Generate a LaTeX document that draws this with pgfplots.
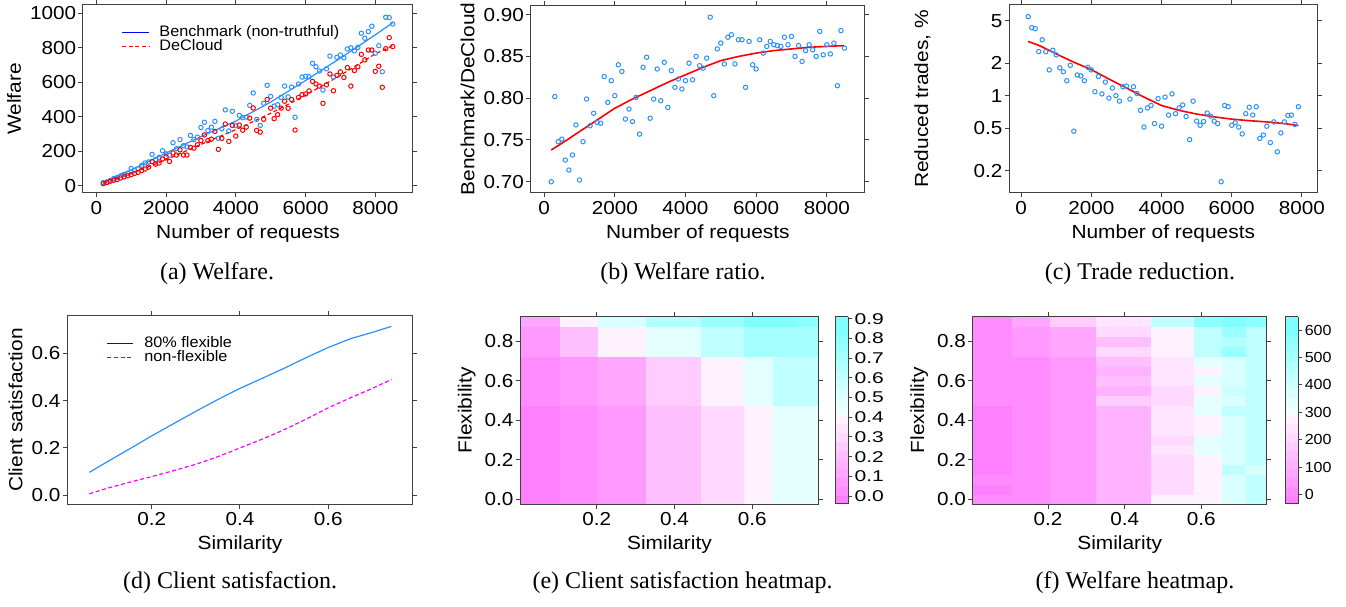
\documentclass[border=0pt]{standalone}
\usepackage{fontspec}
\setmainfont{Liberation Sans}[FakeStretch=1.1]
\newfontfamily\legfont{Liberation Sans}[FakeStretch=1.07]
\newfontfamily\cbfont{Liberation Sans}[FakeStretch=1.35]
\newfontfamily\capfont{Liberation Serif}
\usepackage{pgfplots}
\usepackage{pgfplotstable}
\pgfplotsset{compat=1.18}

\definecolor{dblue}{RGB}{40,145,255}
\definecolor{dred}{RGB}{255,0,0}
\definecolor{dmag}{RGB}{255,0,255}
\definecolor{lblue}{RGB}{0,0,255}
\definecolor{lred}{RGB}{255,0,0}

\tikzset{keytext/.style={anchor=west, inner sep=0pt, text height=5.6pt,
  text depth=1.4pt, font=\legfont\fontsize{7.6}{8}\selectfont}}

% requests, benchmark welfare, DeCloud welfare, ratio, reduced trades (%)
\pgfplotstableread{
x bench decl ratio trade
200 18 12 0.700 5.45
300 22 18 0.802 4.30
400 30 26 0.748 4.21
500 42 32 0.751 2.58
600 48 36 0.726 3.32
700 58 45 0.714 2.57
800 66 52 0.732 1.74
900 72 58 0.768 2.65
1000 100 64 0.702 2.40
1100 88 72 0.748 1.82
1200 98 78 0.799 1.67
1300 118 88 0.767 1.38
1400 132 97 0.782 1.92
1500 138 108 0.771 0.467
1600 182 140 0.770 1.56
1700 152 125 0.826 1.53
1800 165 132 0.795 1.38
1900 203 155 0.821 1.84
2000 185 168 0.803 1.74
2100 178 141 0.840 1.09
2200 250 190 0.832 1.51
2300 215 178 0.775 1.04
2400 268 208 0.787 1.34
2500 232 178 0.772 0.95
2600 225 178 0.801 1.18
2700 292 222 0.757 1.00
2800 268 218 0.837 0.89
2900 282 238 0.849 1.21
3000 338 262 0.776 1.23
3100 368 295 0.799 0.93
3200 320 262 0.835 1.21
3300 340 270 0.797 1.05
3400 373 315 0.843 0.73
3500 275 211 0.789 0.51
3600 330 275 0.833 0.77
3700 440 358 0.813 0.81
3800 318 257 0.823 0.55
3900 432 350 0.811 0.94
4000 348 288 0.821 0.52
4100 408 352 0.842 0.97
4200 395 322 0.822 0.66
4300 398 340 0.850 1.04
4400 466 392 0.839 0.68
4500 538 451 0.836 0.77
4600 385 321 0.848 0.82
4700 350 311 0.897 0.64
4800 478 385 0.803 0.39
4900 582 500 0.859 0.89
5000 518 450 0.866 0.58
5100 462 389 0.841 0.53
5200 470 412 0.873 0.575
5300 512 450 0.876 0.69
5400 578 490 0.841 0.645
5500 515 449 0.870 0.58
5600 572 500 0.870 0.55
5700 397 323 0.813 0.158
5800 590 512 0.868 0.81
5900 630 528 0.840 0.79
6000 635 532 0.835 0.53
6100 632 550 0.870 0.56
6200 710 605 0.854 0.51
6300 690 590 0.862 0.44
6400 665 578 0.868 0.68
6500 555 478 0.864 0.78
6600 678 585 0.863 0.66
6700 752 648 0.862 0.79
6800 630 551 0.873 0.40
6900 745 640 0.864 0.43
7000 758 660 0.874 0.52
7100 742 628 0.850 0.366
7200 793 685 0.863 0.57
7300 800 578 0.844 0.30
7400 782 668 0.857 0.45
7500 802 690 0.864 0.57
7600 884 762 0.858 0.655
7700 855 730 0.850 0.66
7800 894 787 0.880 0.54
7900 925 787 0.852 0.79
8000 768 663 0.864 nan
8100 812 693 0.853 nan
8200 661 571 0.866 nan
8300 977 795 0.815 nan
8400 975 859 0.881 nan
8500 938 807 0.860 nan
}\reqdata

\pgfplotsset{
  colormap={cmr}{rgb=(1,0.5,1) rgb=(1,0.55,1) rgb=(1,0.6,1) rgb=(1,0.65,1)
    rgb=(1,0.7,1) rgb=(1,0.75,1) rgb=(1,0.8,1) rgb=(1,0.85,1) rgb=(1,0.9,1)
    rgb=(1,0.95,1) rgb=(0.95,1,1) rgb=(0.9,1,1) rgb=(0.85,1,1) rgb=(0.8,1,1)
    rgb=(0.75,1,1) rgb=(0.7,1,1) rgb=(0.65,1,1) rgb=(0.6,1,1) rgb=(0.55,1,1)
    rgb=(0.5,1,1) rgb=(0.5,1,1)},
  lat/.style={
    scale only axis, anchor=south west,
    axis line style={black!75, line width=0.5pt},
    tick style={black!75, line width=0.5pt},
    tick align=outside, tick pos=both, major tick length=2.25pt,
    tick label style={font=\fontsize{9.4}{11}\selectfont},
    label style={font=\fontsize{9.5}{11}\selectfont},
    xticklabel style={inner sep=1.5pt},
    yticklabel style={inner sep=1pt},
    /pgf/number format/assume math mode=true,
    /pgf/number format/1000 sep={},
  },
  pts/.style={only marks, mark=o, mark size=1.1pt, line width=0.5pt},
  leg/.style={
    legend style={draw=none, fill=none, at={(0.117,0.89)}, anchor=north west,
      inner sep=0pt, outer sep=0pt, row sep=0pt,
      font=\legfont\fontsize{7.6}{8}\selectfont,
      nodes={inner sep=0pt, text height=5.6pt, text depth=1.4pt},
      /tikz/every odd column/.append style={column sep=5pt}},
    legend cell align=left,
  },
  limg/.style={legend image code/.code={\draw[#1] (0pt,0pt) -- (13.3pt,0pt);}},
  hm/.style={
    lat, axis on top,
    colormap name=cmr, colormap access=piecewise constant,
    xmin=0.003, xmax=0.771, ymin=-0.025, ymax=0.925,
    xtick={0.2,0.4,0.6}, ytick={0,0.2,0.4,0.6,0.8},
    yticklabel style={/pgf/number format/fixed,
      /pgf/number format/fixed zerofill, /pgf/number format/precision=1},
    xlabel={Similarity}, ylabel={Flexibility},
    colorbar,
    colorbar style={
      at={(parent axis.north east)}, anchor=north west,
      width=6.5pt,
      axis line style={black!75, line width=0.5pt},
      tick style={black!75, line width=0.5pt},
      tick align=outside, major tick length=2pt,
      ytick pos=right, yticklabel pos=right,
      /pgf/number format/assume math mode=true,
    },
  },
}

\begin{document}
\begin{tikzpicture}
\path[use as bounding box] (0,0) rectangle (673pt,303pt);

% (a) welfare
\begin{axis}[lat, leg, at={(41.5pt,206.5pt)}, width=165pt, height=94pt,
  xmin=-381, xmax=9081, ymin=-42, ymax=1048,
  xtick={0,2000,4000,6000,8000}, ytick={0,200,400,600,800,1000},
  xlabel={Number of requests}, ylabel={Welfare}]
\addplot[pts, dblue, forget plot] table[x=x, y=bench] {\reqdata};
\addplot[pts, dred, forget plot] table[x=x, y=decl] {\reqdata};
\addplot[dblue, line width=0.6pt, limg={lblue, line width=0.6pt}] coordinates {
  (200,20) (1000,92) (2000,190) (3000,285) (4000,375) (5000,485)
  (6000,610) (7000,740) (8000,875) (8500,945)};
\addlegendentry{Benchmark (non-truthful)}
\addplot[dred, line width=0.6pt, dash pattern=on 2pt off 1.3pt,
  limg={lred, line width=0.6pt, dash pattern=on 2pt off 1.3pt}] coordinates {
  (200,14) (1000,70) (2000,150) (3000,240) (4000,325) (5000,420)
  (6000,525) (7000,640) (8000,765) (8500,812)};
\addlegendentry{DeCloud}
\end{axis}

% (b) welfare ratio
\begin{axis}[lat, at={(265.35pt,206.5pt)}, width=167.15pt, height=94pt,
  xmin=-381, xmax=9081, ymin=0.6865, ymax=0.9116,
  xtick={0,2000,4000,6000,8000}, ytick={0.70,0.75,0.80,0.85,0.90},
  yticklabel style={/pgf/number format/fixed,
    /pgf/number format/fixed zerofill, /pgf/number format/precision=2},
  xlabel={Number of requests}, ylabel={Benchmark/DeCloud}]
\addplot[pts, dblue] table[x=x, y=ratio] {\reqdata};
\addplot[dred, line width=0.8pt] coordinates {
  (200,0.738) (500,0.746) (1000,0.760) (1500,0.774) (2000,0.788) (2500,0.799)
  (3000,0.809) (3500,0.819) (4000,0.828) (4500,0.837) (5000,0.845) (5500,0.850)
  (6000,0.854) (6500,0.857) (7000,0.859) (7500,0.861) (8000,0.862) (8500,0.863)};
\end{axis}

% (c) trade reduction
\begin{axis}[lat, at={(504.65pt,206.5pt)}, width=154pt, height=94pt,
  ymode=log, xmin=-339, xmax=8439, ymin=0.124, ymax=7.0,
  xtick={0,2000,4000,6000,8000}, ytick={0.2,0.5,1,2,5},
  yticklabels={0.2,0.5,1,2,5}, minor ytick={},
  ylabel shift=17pt,
  xlabel={Number of requests}, ylabel={Reduced trades, \%}]
\addplot[pts, dblue] table[x=x, y=trade] {\reqdata};
\addplot[dred, line width=0.8pt] coordinates {
  (200,3.20) (500,2.95) (1000,2.45) (1500,2.05) (2000,1.75) (2500,1.43)
  (3000,1.18) (3500,0.97) (4000,0.81) (4500,0.73) (5000,0.675) (5500,0.635)
  (6000,0.605) (6500,0.585) (7000,0.57) (7500,0.55) (7900,0.527)};
\end{axis}

% (d) client satisfaction
\begin{axis}[lat, at={(33.65pt,51pt)}, width=172.7pt, height=94pt,
  xmin=0.009, xmax=0.791, ymin=-0.037, ymax=0.758,
  xtick={0.2,0.4,0.6}, ytick={0,0.2,0.4,0.6},
  yticklabel style={/pgf/number format/fixed,
    /pgf/number format/fixed zerofill, /pgf/number format/precision=1},
  xlabel={Similarity}, ylabel={Client satisfaction}]
\addplot[dblue, line width=0.6pt] coordinates {
  (0.059,0.097) (0.1,0.142) (0.15,0.196) (0.2,0.251) (0.25,0.303) (0.3,0.355)
  (0.35,0.405) (0.4,0.452) (0.45,0.494) (0.5,0.537) (0.55,0.582) (0.6,0.625)
  (0.65,0.662) (0.7,0.689) (0.743,0.714)};
\addplot[dmag, line width=0.6pt, dash pattern=on 2pt off 1.3pt] coordinates {
  (0.059,0.006) (0.1,0.030) (0.15,0.055) (0.2,0.079) (0.25,0.104) (0.3,0.131)
  (0.35,0.163) (0.4,0.200) (0.45,0.237) (0.5,0.277) (0.55,0.322) (0.6,0.370)
  (0.65,0.412) (0.7,0.452) (0.743,0.490)};
% legend key lines and labels
\addplot[lblue, line width=0.6pt] coordinates {(0.0997,0.6427) (0.1584,0.6427)};
\addplot[lred, line width=0.6pt, dash pattern=on 2pt off 1.3pt]
  coordinates {(0.0997,0.5831) (0.1584,0.5831)};
\node[keytext] at (axis description cs:0.222,0.855) {80\% flexible};
\node[keytext] at (axis description cs:0.222,0.780) {non-flexible};
\end{axis}

% (e) client satisfaction heatmap
\begin{axis}[hm, at={(260.15pt,51pt)}, width=149.15pt, height=93.65pt,
  point meta min=-0.04, point meta max=0.91,
  colorbar style={xshift=-0.2pt, ytick={0,0.1,0.2,0.3,0.4,0.5,0.6,0.7,0.8,0.9},
    yticklabel style={font=\cbfont\fontsize{7.8}{9}\selectfont, inner sep=1pt,
      /pgf/number format/fixed,
      /pgf/number format/fixed zerofill, /pgf/number format/precision=1}}]
\addplot[matrix plot*, mesh/cols=8, point meta=explicit] coordinates {
(0.055,0.00)[0.00] (0.159,0.00)[0.03] (0.251,0.00)[0.08] (0.403,0.00)[0.22] (0.535,0.00)[0.31] (0.627,0.00)[0.41] (0.683,0.00)[0.46] (0.751,0.00)[0.46]
(0.055,0.05)[0.00] (0.159,0.05)[0.03] (0.251,0.05)[0.08] (0.403,0.05)[0.22] (0.535,0.05)[0.31] (0.627,0.05)[0.41] (0.683,0.05)[0.46] (0.751,0.05)[0.46]
(0.055,0.10)[0.00] (0.159,0.10)[0.03] (0.251,0.10)[0.08] (0.403,0.10)[0.22] (0.535,0.10)[0.31] (0.627,0.10)[0.41] (0.683,0.10)[0.46] (0.751,0.10)[0.46]
(0.055,0.15)[0.00] (0.159,0.15)[0.03] (0.251,0.15)[0.08] (0.403,0.15)[0.22] (0.535,0.15)[0.31] (0.627,0.15)[0.41] (0.683,0.15)[0.46] (0.751,0.15)[0.46]
(0.055,0.20)[0.00] (0.159,0.20)[0.03] (0.251,0.20)[0.08] (0.403,0.20)[0.22] (0.535,0.20)[0.31] (0.627,0.20)[0.41] (0.683,0.20)[0.46] (0.751,0.20)[0.46]
(0.055,0.25)[0.00] (0.159,0.25)[0.03] (0.251,0.25)[0.08] (0.403,0.25)[0.22] (0.535,0.25)[0.31] (0.627,0.25)[0.41] (0.683,0.25)[0.46] (0.751,0.25)[0.46]
(0.055,0.30)[0.00] (0.159,0.30)[0.03] (0.251,0.30)[0.08] (0.403,0.30)[0.22] (0.535,0.30)[0.31] (0.627,0.30)[0.41] (0.683,0.30)[0.46] (0.751,0.30)[0.46]
(0.055,0.35)[0.00] (0.159,0.35)[0.03] (0.251,0.35)[0.08] (0.403,0.35)[0.22] (0.535,0.35)[0.31] (0.627,0.35)[0.41] (0.683,0.35)[0.46] (0.751,0.35)[0.46]
(0.055,0.40)[0.00] (0.159,0.40)[0.03] (0.251,0.40)[0.08] (0.403,0.40)[0.22] (0.535,0.40)[0.31] (0.627,0.40)[0.41] (0.683,0.40)[0.46] (0.751,0.40)[0.46]
(0.055,0.45)[0.00] (0.159,0.45)[0.03] (0.251,0.45)[0.08] (0.403,0.45)[0.22] (0.535,0.45)[0.31] (0.627,0.45)[0.41] (0.683,0.45)[0.46] (0.751,0.45)[0.46]
(0.055,0.50)[0.035] (0.159,0.50)[0.08] (0.251,0.50)[0.13] (0.403,0.50)[0.27] (0.535,0.50)[0.41] (0.627,0.50)[0.47] (0.683,0.50)[0.60] (0.751,0.50)[0.60]
(0.055,0.55)[0.035] (0.159,0.55)[0.08] (0.251,0.55)[0.13] (0.403,0.55)[0.27] (0.535,0.55)[0.41] (0.627,0.55)[0.47] (0.683,0.55)[0.60] (0.751,0.55)[0.60]
(0.055,0.60)[0.035] (0.159,0.60)[0.08] (0.251,0.60)[0.13] (0.403,0.60)[0.27] (0.535,0.60)[0.41] (0.627,0.60)[0.47] (0.683,0.60)[0.60] (0.751,0.60)[0.60]
(0.055,0.65)[0.035] (0.159,0.65)[0.08] (0.251,0.65)[0.13] (0.403,0.65)[0.27] (0.535,0.65)[0.41] (0.627,0.65)[0.47] (0.683,0.65)[0.60] (0.751,0.65)[0.60]
(0.055,0.70)[0.035] (0.159,0.70)[0.08] (0.251,0.70)[0.13] (0.403,0.70)[0.27] (0.535,0.70)[0.41] (0.627,0.70)[0.47] (0.683,0.70)[0.60] (0.751,0.70)[0.60]
(0.055,0.75)[0.08] (0.159,0.75)[0.22] (0.251,0.75)[0.37] (0.403,0.75)[0.46] (0.535,0.75)[0.60] (0.627,0.75)[0.70] (0.683,0.75)[0.71] (0.751,0.75)[0.71]
(0.055,0.80)[0.08] (0.159,0.80)[0.22] (0.251,0.80)[0.37] (0.403,0.80)[0.46] (0.535,0.80)[0.60] (0.627,0.80)[0.70] (0.683,0.80)[0.71] (0.751,0.80)[0.71]
(0.055,0.85)[0.08] (0.159,0.85)[0.22] (0.251,0.85)[0.37] (0.403,0.85)[0.46] (0.535,0.85)[0.60] (0.627,0.85)[0.70] (0.683,0.85)[0.71] (0.751,0.85)[0.71]
(0.055,0.90)[0.14] (0.159,0.90)[0.37] (0.251,0.90)[0.51] (0.403,0.90)[0.68] (0.535,0.90)[0.76] (0.627,0.90)[0.82] (0.683,0.90)[0.89] (0.751,0.90)[0.79]
};
\end{axis}

% (f) welfare heatmap
\begin{axis}[hm, at={(486.35pt,51pt)}, width=147pt, height=93.65pt,
  point meta min=-35, point meta max=649,
  colorbar style={xshift=0.8pt, ytick={0,100,200,300,400,500,600},
    yticklabel style={font=\fontsize{7.3}{9}\selectfont, inner sep=1pt}}]
\addplot[matrix plot*, mesh/cols=8, point meta=explicit] coordinates {
(0.055,0.00)[16] (0.159,0.00)[20] (0.251,0.00)[60] (0.403,0.00)[119] (0.535,0.00)[290] (0.627,0.00)[290] (0.683,0.00)[359] (0.751,0.00)[427]
(0.055,0.05)[-10] (0.159,0.05)[20] (0.251,0.05)[60] (0.403,0.05)[119] (0.535,0.05)[222] (0.627,0.05)[290] (0.683,0.05)[359] (0.751,0.05)[427]
(0.055,0.10)[16] (0.159,0.10)[20] (0.251,0.10)[60] (0.403,0.10)[119] (0.535,0.10)[222] (0.627,0.10)[290] (0.683,0.10)[359] (0.751,0.10)[427]
(0.055,0.15)[-10] (0.159,0.15)[20] (0.251,0.15)[60] (0.403,0.15)[119] (0.535,0.15)[222] (0.627,0.15)[290] (0.683,0.15)[427] (0.751,0.15)[359]
(0.055,0.20)[-10] (0.159,0.20)[20] (0.251,0.20)[60] (0.403,0.20)[119] (0.535,0.20)[222] (0.627,0.20)[290] (0.683,0.20)[359] (0.751,0.20)[427]
(0.055,0.25)[-10] (0.159,0.25)[20] (0.251,0.25)[60] (0.403,0.25)[119] (0.535,0.25)[256] (0.627,0.25)[324] (0.683,0.25)[359] (0.751,0.25)[427]
(0.055,0.30)[-10] (0.159,0.30)[20] (0.251,0.30)[60] (0.403,0.30)[119] (0.535,0.30)[222] (0.627,0.30)[324] (0.683,0.30)[359] (0.751,0.30)[427]
(0.055,0.35)[-10] (0.159,0.35)[20] (0.251,0.35)[60] (0.403,0.35)[119] (0.535,0.35)[256] (0.627,0.35)[290] (0.683,0.35)[359] (0.751,0.35)[427]
(0.055,0.40)[-10] (0.159,0.40)[20] (0.251,0.40)[60] (0.403,0.40)[119] (0.535,0.40)[256] (0.627,0.40)[290] (0.683,0.40)[359] (0.751,0.40)[427]
(0.055,0.45)[-10] (0.159,0.45)[20] (0.251,0.45)[60] (0.403,0.45)[119] (0.535,0.45)[256] (0.627,0.45)[324] (0.683,0.45)[427] (0.751,0.45)[427]
(0.055,0.50)[16] (0.159,0.50)[20] (0.251,0.50)[60] (0.403,0.50)[188] (0.535,0.50)[222] (0.627,0.50)[324] (0.683,0.50)[359] (0.751,0.50)[427]
(0.055,0.55)[16] (0.159,0.55)[20] (0.251,0.55)[60] (0.403,0.55)[119] (0.535,0.55)[222] (0.627,0.55)[290] (0.683,0.55)[393] (0.751,0.55)[427]
(0.055,0.60)[16] (0.159,0.60)[20] (0.251,0.60)[60] (0.403,0.60)[153] (0.535,0.60)[256] (0.627,0.60)[324] (0.683,0.60)[359] (0.751,0.60)[427]
(0.055,0.65)[16] (0.159,0.65)[20] (0.251,0.65)[60] (0.403,0.65)[119] (0.535,0.65)[256] (0.627,0.65)[290] (0.683,0.65)[359] (0.751,0.65)[427]
(0.055,0.70)[16] (0.159,0.70)[20] (0.251,0.70)[60] (0.403,0.70)[153] (0.535,0.70)[256] (0.627,0.70)[324] (0.683,0.70)[359] (0.751,0.70)[427]
(0.055,0.75)[16] (0.159,0.75)[51] (0.251,0.75)[85] (0.403,0.75)[222] (0.535,0.75)[290] (0.627,0.75)[427] (0.683,0.75)[530] (0.751,0.75)[427]
(0.055,0.80)[16] (0.159,0.80)[51] (0.251,0.80)[85] (0.403,0.80)[153] (0.535,0.80)[290] (0.627,0.80)[427] (0.683,0.80)[461] (0.751,0.80)[427]
(0.055,0.85)[16] (0.159,0.85)[51] (0.251,0.85)[85] (0.403,0.85)[222] (0.535,0.85)[290] (0.627,0.85)[427] (0.683,0.85)[530] (0.751,0.85)[427]
(0.055,0.90)[16] (0.159,0.90)[85] (0.251,0.90)[188] (0.403,0.90)[256] (0.535,0.90)[427] (0.627,0.90)[564] (0.683,0.90)[632] (0.751,0.90)[564]
};
\end{axis}

% captions
\begin{scope}[every node/.style={font=\capfont\fontsize{12}{14}\selectfont, anchor=base}]
\node at (108.5pt,163.25pt) {(a) Welfare.};
\node at (341.5pt,163.25pt) {(b) Welfare ratio.};
\node at (570pt,163.25pt) {(c) Trade reduction.};
\node at (115pt,8.75pt) {(d) Client satisfaction.};
\node at (341.25pt,8.75pt) {(e) Client satisfaction heatmap.};
\node at (567.5pt,8.75pt) {(f) Welfare heatmap.};
\end{scope}
\end{tikzpicture}
\end{document}
